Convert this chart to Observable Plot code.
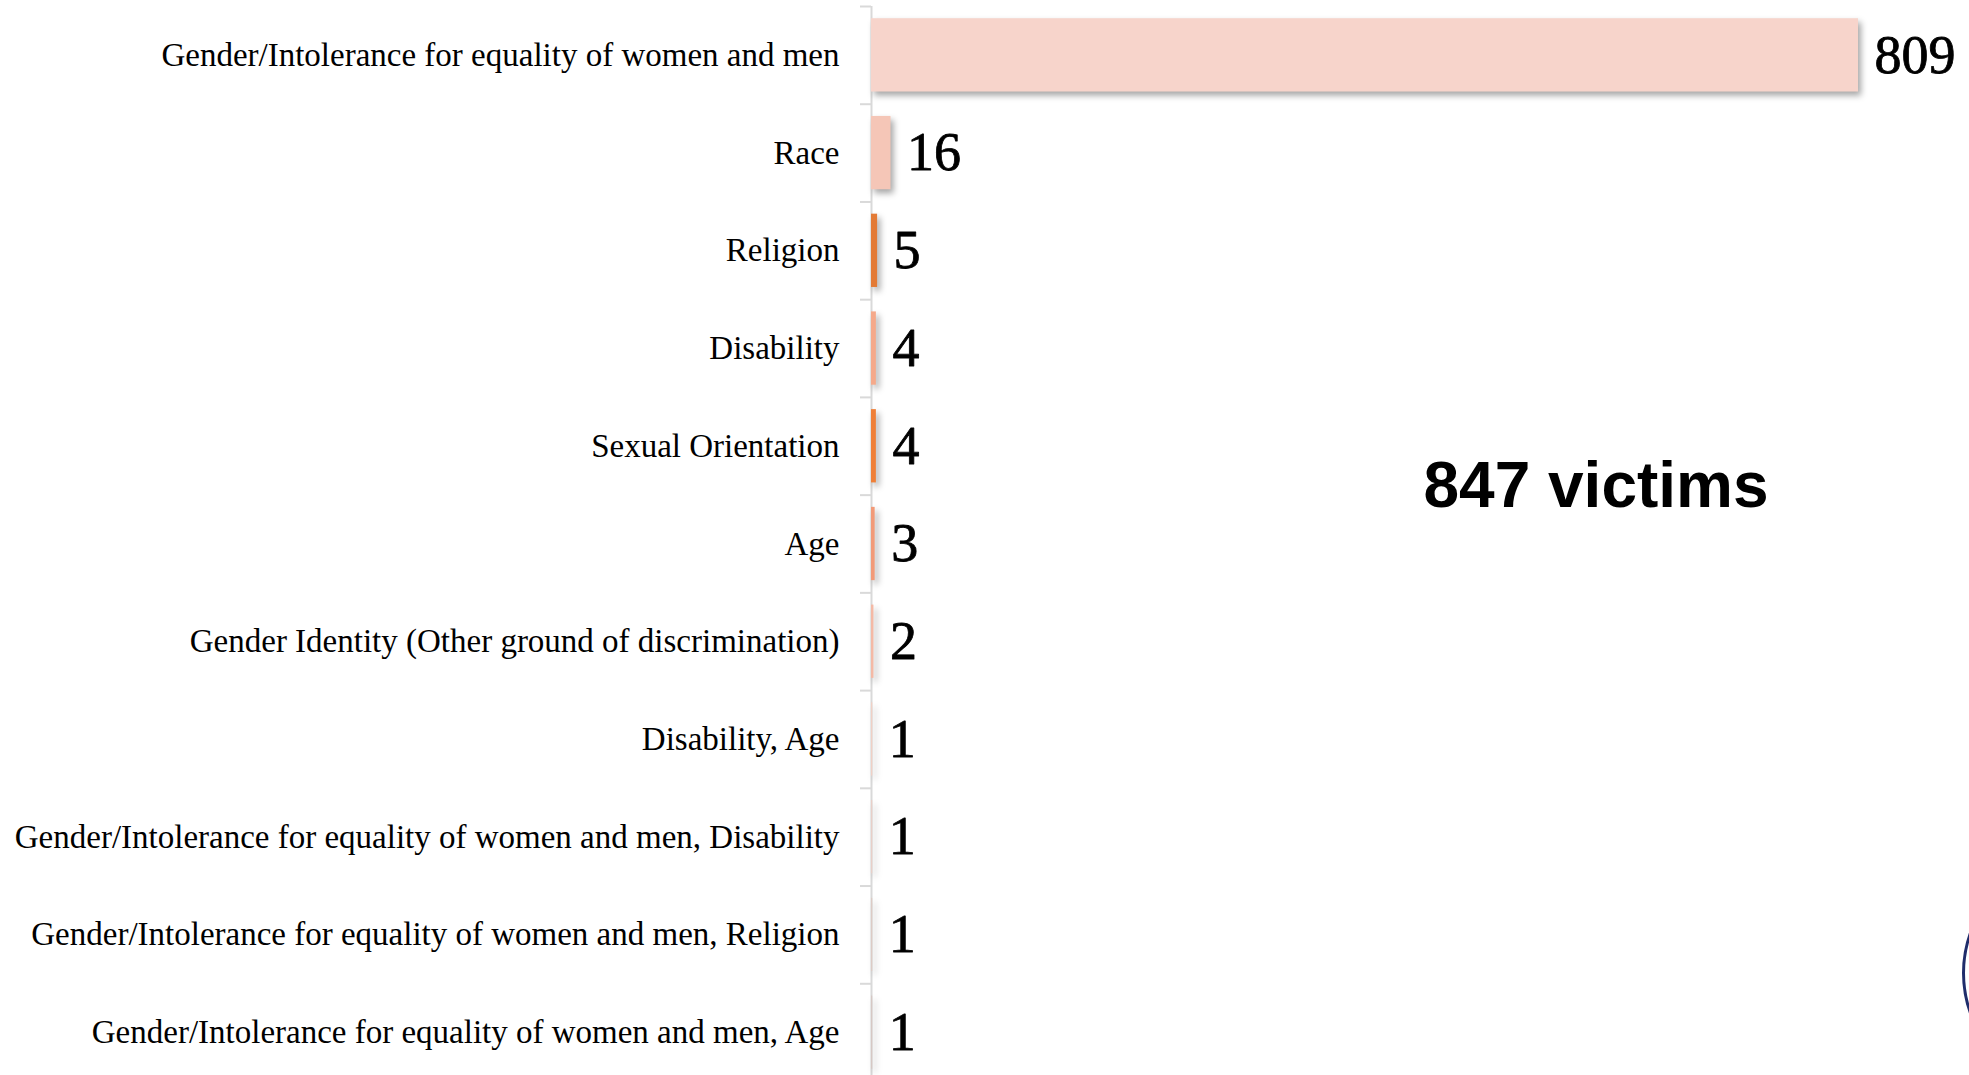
<!DOCTYPE html>
<html>
<head>
<meta charset="utf-8">
<script src="https://cdn.jsdelivr.net/npm/d3@7"></script>
<script src="https://cdn.jsdelivr.net/npm/@observablehq/plot@0.6"></script>
<style>
  html, body { margin: 0; padding: 0; background: #fff; overflow: hidden; }
  #wrap { position: relative; width: 1969px; height: 1075px; overflow: hidden; }
  #logo { position: absolute; left: 1962px; top: 852px; width: 242px; height: 242px; border: 3px solid #1f2d6b; border-radius: 50%; box-sizing: border-box; }
</style>
</head>
<body>
<div id="wrap"></div>
<script>
const categories = [
  "Gender/Intolerance for equality of women and men",
  "Race",
  "Religion",
  "Disability",
  "Sexual Orientation",
  "Age",
  "Gender Identity (Other ground of discrimination)",
  "Disability, Age",
  "Gender/Intolerance for equality of women and men, Disability",
  "Gender/Intolerance for equality of women and men, Religion",
  "Gender/Intolerance for equality of women and men, Age"
];
const values = [809, 16, 5, 4, 4, 3, 2, 1, 1, 1, 1];
const colors = ["#f7d4cb", "#f5c6b7", "#e37a35", "#f5a98a", "#ef7f37", "#f29a78", "#f4b9a5", "#f0d0c5", "#e8cfc8", "#dccbc5", "#d6c8c4"];

const data = categories.map((c, i) => ({cat: c, value: values[i], color: colors[i]}));
const total = d3.sum(values);

const H = 1081, MT = 6, MB = 0;
const step = (H - MT - MB) / categories.length;
const serif = "'Liberation Serif', 'DejaVu Serif', serif";

const chart = Plot.plot({
  width: 1969,
  height: H,
  marginTop: MT,
  marginBottom: MB,
  marginLeft: 871,
  marginRight: 111,
  x: {domain: [0, 809], axis: null},
  y: {domain: categories, paddingInner: 0.25, paddingOuter: 0.125, round: false, axis: null},
  color: {type: "identity"},
  marks: [
    Plot.axisY({text: null, tickSize: 11, dy: -step / 2, stroke: "#d9d9d9", strokeWidth: 2, label: null}),
    Plot.axisY({tickSize: 0, tickPadding: 32, fontSize: 33, fontFamily: serif, fill: "#000", stroke: "#000", strokeWidth: 0.35, label: null}),
    Plot.ruleX([0], {stroke: "#d9d9d9", strokeWidth: 2}),
    Plot.barX(data, {x: "value", y: "cat", fill: "color"}),
    Plot.text(data, {x: "value", y: "cat", text: d => String(d.value), dx: 16, textAnchor: "start", fontSize: 54, fontFamily: serif, fill: "#000", stroke: "#000", strokeWidth: 0.8}),
    Plot.text([`${total} victims`], {text: d => d, frameAnchor: "middle", dx: 231, dy: -57, fontSize: 64, fontWeight: "bold", fontFamily: "'Liberation Sans', Arial, sans-serif", fill: "#000"})
  ]
});
const bars = chart.querySelector('g[aria-label="bar"]');
if (bars) bars.style.filter = "drop-shadow(3px 4px 3px rgba(0,0,0,0.35))";
const wrap = document.getElementById("wrap");
wrap.appendChild(chart);
const logo = document.createElement("div");
logo.id = "logo";
wrap.appendChild(logo);
</script>
</body>
</html>
